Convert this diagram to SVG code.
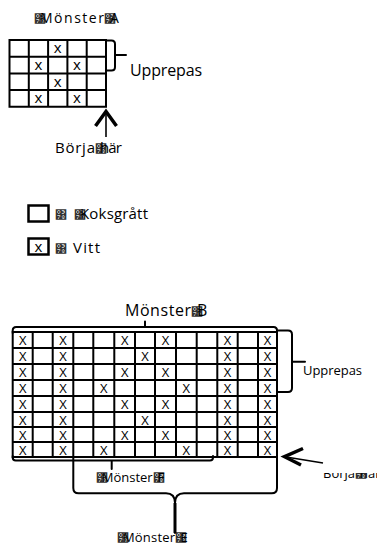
<svg xmlns="http://www.w3.org/2000/svg" width="377" height="544" viewBox="0 0 377 544">
<style>
  text { font-family: "Open Sans", "Noto Sans", "DejaVu Sans", sans-serif; fill: #000; }
  .t { font-size: 12px; fill: #333; }
  .grid { fill: none; stroke: #000; stroke-width: 2; }
  .br { fill: none; stroke: #000; stroke-width: 2; stroke-linecap: round; stroke-linejoin: round; }
  .thick { fill: none; stroke: #000; stroke-width: 3.5; stroke-linejoin: miter; }
  .shaft { fill: none; stroke: #000; stroke-width: 1.6; }
  .xa { font-size: 15px; text-anchor: middle; }
  .xb { font-size: 13px; text-anchor: middle; }
</style>
<defs>
  <clipPath id="clipBorja"><rect x="300" y="473" width="77" height="20"/></clipPath>
</defs>

<g id="pattern-a">
  <text y="23" style="font-size:14px"><tspan class="t" x="34">&#x0378;</tspan><tspan x="40" textLength="64" lengthAdjust="spacing">Mönster</tspan><tspan class="t" x="104">&#x0378;</tspan><tspan x="110">A</tspan></text>
  <path class="grid" d="M9.5,40 V106.8 M28.8,40 V106.8 M48.1,40 V106.8 M67.4,40 V106.8 M86.7,40 V106.8 M106,40 V106.8 M8.5,40 H107 M8.5,56.7 H107 M8.5,73.4 H107 M8.5,90.1 H107 M8.5,106.8 H107"/>
  <text class="xa" x="57.75" y="53.3">x</text>
  <text class="xa" x="38.45" y="70">x</text>
  <text class="xa" x="77.05" y="70">x</text>
  <text class="xa" x="57.75" y="86.7">x</text>
  <text class="xa" x="38.45" y="103.4">x</text>
  <text class="xa" x="77.05" y="103.4">x</text>
</g>

<g id="repeat-a">
  <path class="br" d="M106,40.5 H111.5 Q115,40.5 115,44 V67 Q115,70.5 111.5,70.5 H106 M115,55 H126"/>
  <text x="130" y="76" style="font-size:16px" textLength="72" lengthAdjust="spacing">Upprepas</text>
</g>

<g id="start-a">
  <text y="152.5" style="font-size:15px"><tspan x="55" textLength="40" lengthAdjust="spacing">Börja</tspan><tspan class="t" x="94.5">&#x0378;</tspan><tspan x="100" textLength="22" lengthAdjust="spacing">här</tspan></text>
</g>

<g id="legend-dark">
  <rect x="28.5" y="205.5" width="20" height="16" fill="none" stroke="#000" stroke-width="2.5"/>
  <text y="219" style="font-size:15px"><tspan class="t" x="55">&#x0378;</tspan><tspan class="t" x="73.5">&#x0378;</tspan><tspan x="80" textLength="68" lengthAdjust="spacing">Koksgrått</tspan></text>
</g>

<g id="legend-white">
  <rect x="28.5" y="238.5" width="20" height="16" fill="none" stroke="#000" stroke-width="2.5"/>
  <text x="38.5" y="252" style="font-size:15px; text-anchor:middle">x</text>
  <text y="252.5" style="font-size:15px"><tspan class="t" x="55">&#x0378;</tspan><tspan x="73" textLength="27" lengthAdjust="spacing">Vitt</tspan></text>
</g>

<g id="pattern-b">
  <text y="315.5" style="font-size:16px"><tspan x="125" textLength="66" lengthAdjust="spacing">Mönster</tspan><tspan class="t" x="191">&#x0378;</tspan><tspan x="197">B</tspan></text>
  <path class="grid" d="M12.7,332 V457 M32.7,332 V457 M52.7,332 V457 M73.3,332 V457 M93.3,332 V457 M114.3,332 V457 M135,332 V457 M155,332 V457 M176,332 V457 M196.7,332 V457 M217.3,332 V457 M237.7,332 V457 M258,332 V457 M277,332 V457 M11.7,332 H278 M11.7,348 H278 M11.7,364 H278 M11.7,380 H278 M11.7,396 H278 M11.7,412 H278 M11.7,427 H278 M11.7,442 H278 M11.7,457 H278"/>
  <text class="xb" x="22.7" y="344.8">X</text><text class="xb" x="63" y="344.8">X</text><text class="xb" x="124.65" y="344.8">X</text><text class="xb" x="165.5" y="344.8">X</text><text class="xb" x="227.5" y="344.8">X</text><text class="xb" x="267.5" y="344.8">X</text>
  <text class="xb" x="22.7" y="360.8">X</text><text class="xb" x="63" y="360.8">X</text><text class="xb" x="145" y="360.8">X</text><text class="xb" x="227.5" y="360.8">X</text><text class="xb" x="267.5" y="360.8">X</text>
  <text class="xb" x="22.7" y="376.8">X</text><text class="xb" x="63" y="376.8">X</text><text class="xb" x="124.65" y="376.8">X</text><text class="xb" x="165.5" y="376.8">X</text><text class="xb" x="227.5" y="376.8">X</text><text class="xb" x="267.5" y="376.8">X</text>
  <text class="xb" x="22.7" y="392.8">X</text><text class="xb" x="63" y="392.8">X</text><text class="xb" x="103.8" y="392.8">X</text><text class="xb" x="186.35" y="392.8">X</text><text class="xb" x="227.5" y="392.8">X</text><text class="xb" x="267.5" y="392.8">X</text>
  <text class="xb" x="22.7" y="408.8">X</text><text class="xb" x="63" y="408.8">X</text><text class="xb" x="124.65" y="408.8">X</text><text class="xb" x="165.5" y="408.8">X</text><text class="xb" x="227.5" y="408.8">X</text><text class="xb" x="267.5" y="408.8">X</text>
  <text class="xb" x="22.7" y="424.5">X</text><text class="xb" x="63" y="424.5">X</text><text class="xb" x="145" y="424.5">X</text><text class="xb" x="227.5" y="424.5">X</text><text class="xb" x="267.5" y="424.5">X</text>
  <text class="xb" x="22.7" y="439.8">X</text><text class="xb" x="63" y="439.8">X</text><text class="xb" x="124.65" y="439.8">X</text><text class="xb" x="165.5" y="439.8">X</text><text class="xb" x="227.5" y="439.8">X</text><text class="xb" x="267.5" y="439.8">X</text>
  <text class="xb" x="22.7" y="454.8">X</text><text class="xb" x="63" y="454.8">X</text><text class="xb" x="103.8" y="454.8">X</text><text class="xb" x="186.35" y="454.8">X</text><text class="xb" x="227.5" y="454.8">X</text><text class="xb" x="267.5" y="454.8">X</text>
</g>

<g id="repeat-b">
  <text x="303" y="374.5" style="font-size:13px" textLength="59" lengthAdjust="spacing">Upprepas</text>
</g>

<g id="pattern-f">
  <text y="481.5" style="font-size:13px"><tspan class="t" x="95.5">&#x0378;</tspan><tspan x="101.7" textLength="51" lengthAdjust="spacing">Mönster</tspan><tspan class="t" x="152.5">&#x0378;</tspan><tspan x="157.5">F</tspan></text>
</g>

<g id="pattern-e">
  <text y="541.5" style="font-size:13px"><tspan class="t" x="117">&#x0378;</tspan><tspan x="123" textLength="52" lengthAdjust="spacing">Mönster</tspan><tspan class="t" x="175">&#x0378;</tspan><tspan x="180.5">E</tspan></text>
</g>

<g id="start-b">
  <g clip-path="url(#clipBorja)">
    <text y="477.5" style="font-size:13px"><tspan x="323" textLength="32" lengthAdjust="spacing">Börja</tspan><tspan class="t" x="355">&#x0378;</tspan><tspan x="360">här</tspan></text>
  </g>
</g>

<g id="connectors">
  <path class="shaft" d="M106,111 V137"/>
  <path class="thick" d="M95.5,126 L106,111.5 L116.5,126"/>
  <path class="br" d="M12.7,333 V330.5 Q12.7,327 16.2,327 H273.5 Q277,327 277,330.5 V333 M145,327 V321.5"/>
  <path class="br" d="M277,330.5 H288 Q292,330.5 292,334.5 V388 Q292,392 288,392 H278 M292,361.7 H305"/>
  <path class="br" d="M12.7,456 V457.5 Q12.7,460.5 15.7,460.5 H210 Q213,460.5 213,457.5 V456 M111.7,460.5 V469"/>
  <path class="br" d="M73.3,457 V488 Q73.3,493.3 78.6,493.3 H166 Q175,493.3 175,503 V533 M277,457 V488 Q277,493.3 271.7,493.3 H184 Q175,493.3 175,503"/>
  <path fill="none" stroke="#000" stroke-width="3" d="M175,503 V533"/>
  <path class="shaft" d="M284.5,456.7 L323,463"/>
  <path class="thick" d="M303,448.5 L284.5,456.7 L301,465"/>
</g>
</svg>
